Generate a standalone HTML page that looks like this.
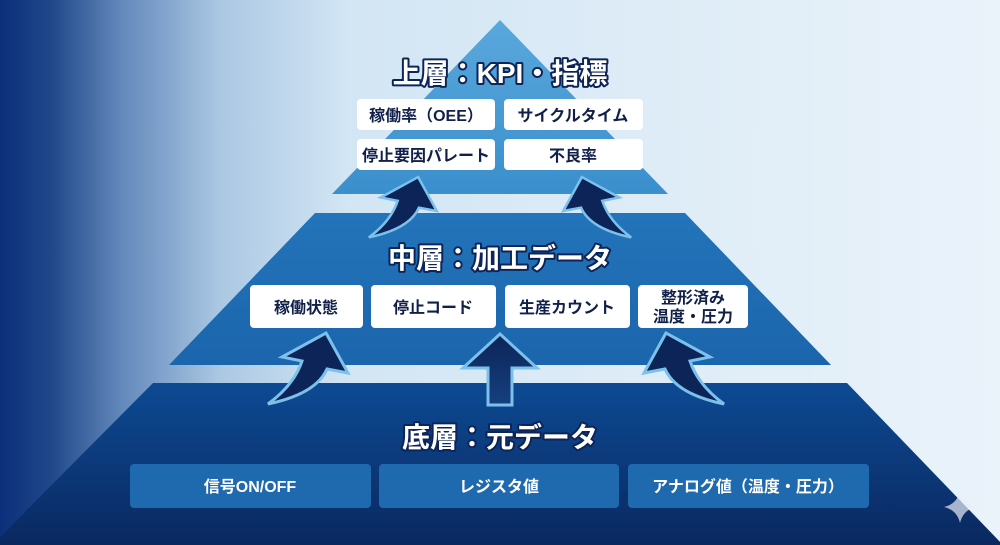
<!DOCTYPE html>
<html><head><meta charset="utf-8"><style>
html,body{margin:0;padding:0;}
body{width:1000px;height:545px;overflow:hidden;}
svg{display:block;}
text{font-family:"Liberation Sans","Noto Sans CJK JP",sans-serif;font-weight:700;}
</style></head><body>
<svg width="1000" height="545" viewBox="0 0 1000 545" xmlns="http://www.w3.org/2000/svg">
<defs>
<linearGradient id="bg" x1="0" y1="0" x2="1" y2="0">
<stop offset="0" stop-color="#0c2f7a"/>
<stop offset="0.05" stop-color="#1f4789"/>
<stop offset="0.12" stop-color="#6287ba"/>
<stop offset="0.22" stop-color="#abc8e3"/>
<stop offset="0.35" stop-color="#d3e6f4"/>
<stop offset="1" stop-color="#eaf3fa"/>
</linearGradient>
<linearGradient id="top" x1="0" y1="0" x2="0" y2="1">
<stop offset="0" stop-color="#5aa8dc"/>
<stop offset="1" stop-color="#3a8fcc"/>
</linearGradient>
<linearGradient id="mid" x1="0" y1="0" x2="0" y2="1">
<stop offset="0" stop-color="#2374ba"/>
<stop offset="1" stop-color="#1b65ac"/>
</linearGradient>
<linearGradient id="bot" x1="0" y1="0" x2="0" y2="1">
<stop offset="0" stop-color="#0d4a93"/>
<stop offset="1" stop-color="#0a2860"/>
</linearGradient>
<linearGradient id="shaft" x1="0" y1="0" x2="0" y2="1">
<stop offset="0" stop-color="#0d2458"/>
<stop offset="1" stop-color="#15407f"/>
</linearGradient>
<g id="carrow">
<path d="M326,333 L348,373 L327,369 Q316,394 268,404 Q294,385 302,361 L282,357 Z" fill="#0d2458" stroke="#7cc0ec" stroke-width="3" stroke-linejoin="miter"/>
</g>
</defs>
<rect width="1000" height="545" fill="url(#bg)"/>
<polygon points="153,383 847,383 1003,545 -8,545" fill="url(#bot)"/>
<polygon points="315,213 685,213 831,365 169,365" fill="url(#mid)"/>
<polygon points="500,20 668,194 332,194" fill="url(#top)"/>

<g transform="translate(141,-106) scale(0.85)"><use href="#carrow"/></g>
<g transform="translate(1000,0) scale(-1,1) translate(141,-106) scale(0.85)"><use href="#carrow"/></g>
<use href="#carrow"/>
<g transform="translate(992,0) scale(-1,1)"><use href="#carrow"/></g>
<path d="M500,334 L537,368 L512,368 L512,405 L488,405 L488,368 L463,368 Z" fill="url(#shaft)" stroke="#7cc0ec" stroke-width="3"/>

<g font-size="28" text-anchor="middle" fill="#fff" stroke="#0d2458" stroke-width="4" paint-order="stroke" stroke-linejoin="round">
<text x="500" y="83">上層：KPI・指標</text>
<text x="500" y="268">中層：加工データ</text>
<text x="500" y="447">底層：元データ</text>
</g>

<g fill="#fff">
<rect x="357" y="99" width="138" height="31" rx="4"/>
<rect x="504" y="99" width="139" height="31" rx="4"/>
<rect x="357" y="139" width="138" height="31" rx="4"/>
<rect x="504" y="139" width="139" height="31" rx="4"/>
<rect x="250" y="285" width="113" height="43" rx="4"/>
<rect x="371" y="285" width="125" height="43" rx="4"/>
<rect x="505" y="285" width="125" height="43" rx="4"/>
<rect x="638" y="285" width="110" height="43" rx="4"/>
</g>
<g font-size="16" text-anchor="middle" fill="#10204a">
<text x="426" y="121">稼働率（OEE）</text>
<text x="573" y="121">サイクルタイム</text>
<text x="426" y="161">停止要因パレート</text>
<text x="573" y="161">不良率</text>
<text x="306" y="313">稼働状態</text>
<text x="433" y="313">停止コード</text>
<text x="567" y="313">生産カウント</text>
<text x="693" y="303">整形済み</text>
<text x="693" y="322">温度・圧力</text>
</g>

<g fill="#1f6aae">
<rect x="130" y="464" width="241" height="44" rx="4"/>
<rect x="379" y="464" width="240" height="44" rx="4"/>
<rect x="628" y="464" width="241" height="44" rx="4"/>
</g>
<g font-size="16" text-anchor="middle" fill="#fff">
<text x="250" y="492">信号ON/OFF</text>
<text x="499" y="492">レジスタ値</text>
<text x="748" y="492">アナログ値（温度・圧力）</text>
</g>

<path d="M960,491 Q963,504 976,507 Q963,510 960,523 Q957,510 944,507 Q957,504 960,491 Z" fill="#e8eef6" opacity="0.7"/>
</svg>
</body></html>
